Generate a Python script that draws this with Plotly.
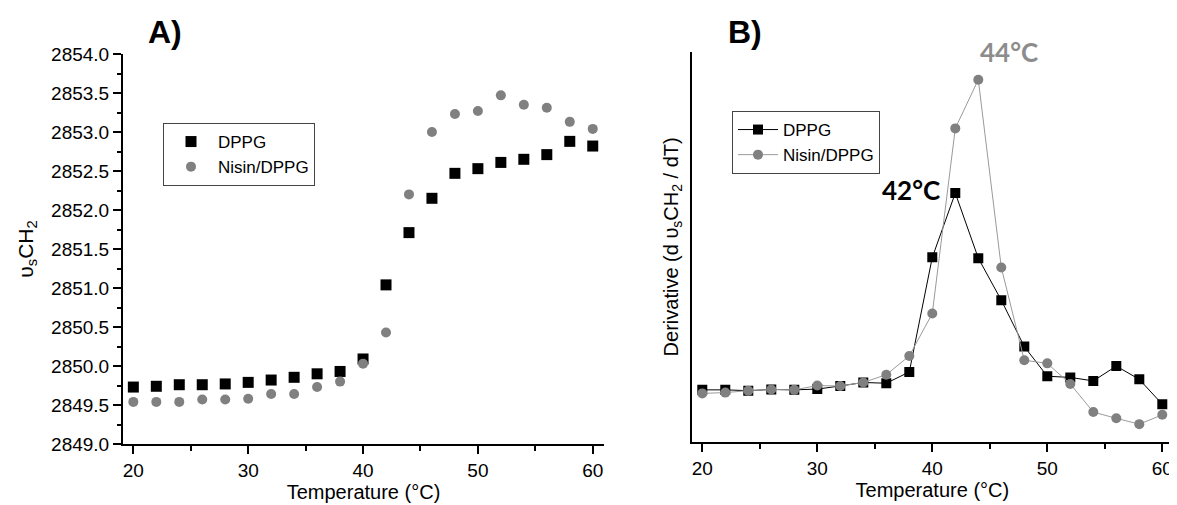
import plotly.graph_objects as go

temps = [20, 22, 24, 26, 28, 30, 32, 34, 36, 38, 40, 42, 44, 46, 48, 50, 52, 54, 56, 58, 60]

# Panel A: symmetric CH2 stretching wavenumber (cm-1)
dppg_freq = [2849.73, 2849.74, 2849.76, 2849.76, 2849.77, 2849.79, 2849.82, 2849.855, 2849.90, 2849.93,
             2850.09, 2851.04, 2851.71, 2852.15, 2852.47, 2852.53, 2852.61, 2852.65, 2852.71, 2852.88, 2852.82]
nisin_freq = [2849.54, 2849.54, 2849.54, 2849.57, 2849.57, 2849.58, 2849.64, 2849.64, 2849.73, 2849.80,
              2850.03, 2850.43, 2852.20, 2853.00, 2853.23, 2853.27, 2853.47, 2853.35, 2853.31, 2853.13, 2853.04]

# Panel B: derivative (arbitrary units)
dppg_deriv = [0.133, 0.133, 0.131, 0.134, 0.133, 0.135, 0.143, 0.152, 0.150, 0.179,
              0.473, 0.638, 0.471, 0.363, 0.244, 0.168, 0.165, 0.156, 0.194, 0.160, 0.096]
nisin_deriv = [0.124, 0.126, 0.131, 0.134, 0.133, 0.144, 0.143, 0.152, 0.172, 0.220,
               0.329, 0.804, 0.929, 0.447, 0.209, 0.201, 0.148, 0.076, 0.060, 0.045, 0.069]

series_names = ["DPPG", "Nisin/DPPG"]
peak_labels = ["42°C", "44°C"]
peak_temps = [42, 44]

# page body has an 8px margin; figure sized to fill the rest of the window
OFF = 8
W, H = 1177 - OFF, 505 - OFF
FONT = "Liberation Sans, Arial, sans-serif"
BLACK = "#000000"
GRAY = "#808080"
LINEGRAY = "#9a9a9a"

fig = go.Figure()

fig.add_trace(go.Scatter(x=temps, y=dppg_freq, mode="markers", name=series_names[0],
                         marker=dict(symbol="square", size=11, color=BLACK),
                         xaxis="x", yaxis="y", legend="legend"))
fig.add_trace(go.Scatter(x=temps, y=nisin_freq, mode="markers", name=series_names[1],
                         marker=dict(symbol="circle", size=10, color=GRAY),
                         xaxis="x", yaxis="y", legend="legend"))

fig.add_trace(go.Scatter(x=temps, y=dppg_deriv, mode="lines+markers", name=series_names[0],
                         line=dict(color=BLACK, width=1),
                         marker=dict(symbol="square", size=10, color=BLACK),
                         xaxis="x2", yaxis="y2", legend="legend2"))
fig.add_trace(go.Scatter(x=temps, y=nisin_deriv, mode="lines+markers", name=series_names[1],
                         line=dict(color=LINEGRAY, width=1),
                         marker=dict(symbol="circle", size=10, color=GRAY),
                         xaxis="x2", yaxis="y2", legend="legend2"))

def px_x(p):
    return (p - OFF) / W

def px_y(p):
    return 1 - (p - OFF) / H

common_x = dict(
    showline=True, linecolor=BLACK, linewidth=2, mirror=False,
    showgrid=False, zeroline=False, automargin=False,
    ticks="outside", ticklen=8, tickwidth=2, tickcolor=BLACK,
    dtick=10, tick0=0,
    minor=dict(dtick=5, ticks="outside", ticklen=5, tickwidth=2, tickcolor=BLACK, showgrid=False),
    tickfont=dict(family=FONT, size=19, color=BLACK),
    title=dict(text="Temperature (°C)", font=dict(family=FONT, size=20, color=BLACK), standoff=2),
)

fig.update_layout(
    width=W, height=H,
    margin=dict(l=0, r=0, t=0, b=0, autoexpand=False),
    paper_bgcolor="white", plot_bgcolor="white",
    showlegend=True,
    xaxis=dict(common_x, domain=[px_x(123), px_x(604)], range=[19.1, 60.98], anchor="y"),
    yaxis=dict(
        domain=[px_y(444), px_y(54)], range=[2849.0, 2854.0], anchor="x",
        showline=True, linecolor=BLACK, linewidth=2, mirror=False,
        showgrid=False, zeroline=False, automargin=False,
        ticks="outside", ticklen=8, tickwidth=2, tickcolor=BLACK,
        dtick=0.5, tick0=2849, tickformat=".1f",
        minor=dict(dtick=0.25, ticks="outside", ticklen=4, tickwidth=1.5, tickcolor=BLACK, showgrid=False),
        tickfont=dict(family=FONT, size=19, color=BLACK),
        title=dict(text="υ<sub>s</sub>CH<sub>2</sub>", font=dict(family=FONT, size=21, color=BLACK), standoff=12),
    ),
    xaxis2=dict(common_x, domain=[px_x(691.7), px_x(1173)], range=[19.08, 60.93], anchor="y2"),
    yaxis2=dict(
        domain=[px_y(441.7), px_y(52)], range=[0, 1], anchor="x2",
        showline=True, linecolor=BLACK, linewidth=2, mirror=False,
        showgrid=False, zeroline=False, automargin=False,
        ticks="", showticklabels=False,
        title=dict(text="Derivative (d υ<sub>s</sub>CH<sub>2</sub> / dT)",
                   font=dict(family=FONT, size=20, color=BLACK), standoff=6),
    ),
    legend=dict(
        x=px_x(163), y=px_y(123), xanchor="left", yanchor="top",
        bgcolor="white", bordercolor="#444444", borderwidth=1,
        font=dict(family=FONT, size=17, color=BLACK),
        itemwidth=44, tracegroupgap=0,
    ),
    legend2=dict(
        x=px_x(732), y=px_y(111), xanchor="left", yanchor="top",
        bgcolor="white", bordercolor="#444444", borderwidth=1,
        font=dict(family=FONT, size=17, color=BLACK),
        itemwidth=40, tracegroupgap=0,
    ),
)

annotations = [
    dict(text="<b>A)</b>", x=px_x(165), y=px_y(32), xref="paper", yref="paper",
         showarrow=False, font=dict(family=FONT, size=32, color=BLACK), xanchor="center", yanchor="middle"),
    dict(text="<b>B)</b>", x=px_x(745), y=px_y(32), xref="paper", yref="paper",
         showarrow=False, font=dict(family=FONT, size=32, color=BLACK), xanchor="center", yanchor="middle"),
    dict(text="<b>" + peak_labels[0] + "</b>", x=px_x(911), y=px_y(190), xref="paper", yref="paper",
         showarrow=False, font=dict(family="Lato, " + FONT, size=26, color=BLACK), xanchor="center", yanchor="middle"),
    dict(text="<b>" + peak_labels[1] + "</b>", x=px_x(1009), y=px_y(52), xref="paper", yref="paper",
         showarrow=False, font=dict(family="Lato, " + FONT, size=26, color="#8c8c8c"), xanchor="center", yanchor="middle"),
]
fig.update_layout(annotations=annotations)

fig.write_html("out.html")
